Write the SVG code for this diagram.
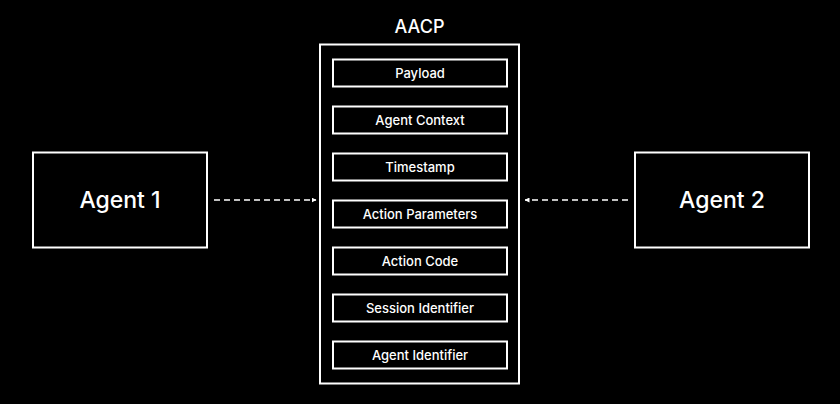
<svg xmlns="http://www.w3.org/2000/svg" width="840" height="404" viewBox="0 0 840 404">
<style>
.box{fill:#000;stroke:#fff;stroke-width:2}
.field{fill:#000;stroke:#fff;stroke-width:2}
.t{fill:#fff;font-family:Inter,"Liberation Sans",sans-serif;text-anchor:middle;dominant-baseline:central}
.ft{font-size:13px;font-weight:500}
.big{font-size:23px;font-weight:500}
.conn{stroke:#fff;stroke-width:1.6;stroke-dasharray:6 4;fill:none}
</style>
<defs>
<marker id="ah" viewBox="0 0 10 10" refX="9" refY="5" markerWidth="5" markerHeight="5" orient="auto" markerUnits="userSpaceOnUse">
<path d="M0,0 L10,5 L0,10 z" fill="#fff"/>
</marker>
</defs>
<rect width="840" height="404" fill="#000"/>
<g id="aacp">
<text class="t" x="419.5" y="26" font-size="18" font-weight="500">AACP</text>
<rect class="box" x="320" y="44.5" width="199" height="339"/>
</g>
<g id="payload"><rect class="field" x="333" y="59.5" width="174" height="27"/><text class="t ft" x="420" y="73">Payload</text></g>
<g id="agent-context"><rect class="field" x="333" y="106.5" width="174" height="27"/><text class="t ft" x="420" y="120">Agent Context</text></g>
<g id="timestamp"><rect class="field" x="333" y="153.5" width="174" height="27"/><text class="t ft" x="420" y="167">Timestamp</text></g>
<g id="action-parameters"><rect class="field" x="333" y="200.5" width="174" height="27"/><text class="t ft" x="420" y="214">Action Parameters</text></g>
<g id="action-code"><rect class="field" x="333" y="247.5" width="174" height="27"/><text class="t ft" x="420" y="261">Action Code</text></g>
<g id="session-identifier"><rect class="field" x="333" y="294.5" width="174" height="27"/><text class="t ft" x="420" y="308">Session Identifier</text></g>
<g id="agent-identifier"><rect class="field" x="333" y="341.5" width="174" height="27"/><text class="t ft" x="420" y="355">Agent Identifier</text></g>
<g id="agent1"><rect class="box" x="33" y="152.5" width="174" height="95"/><text class="t big" x="120" y="200">Agent 1</text></g>
<g id="agent2"><rect class="box" x="635" y="152.5" width="174" height="95"/><text class="t big" x="722" y="200">Agent 2</text></g>
<g id="connectors">
<line class="conn" x1="214" y1="200" x2="316" y2="200" marker-end="url(#ah)"/>
<line class="conn" x1="628" y1="200" x2="525" y2="200" marker-end="url(#ah)"/>
</g>
</svg>
